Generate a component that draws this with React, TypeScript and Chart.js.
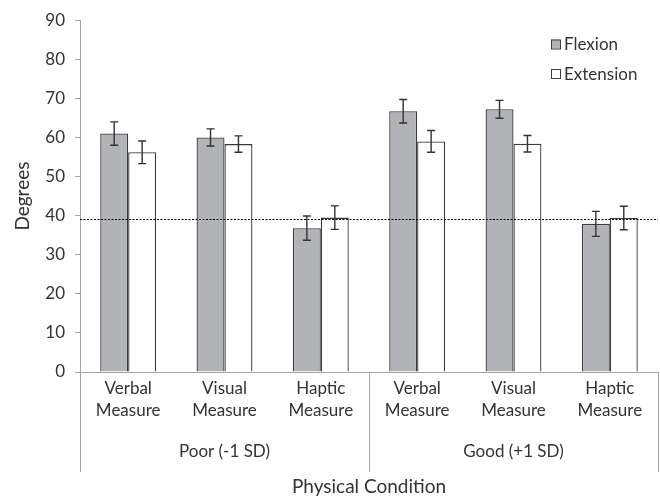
import React, { useEffect, useRef } from "react";
import { Chart, registerables } from "chart.js";

Chart.register(...registerables);

const categories: string[][] = [
  ["Verbal", "Measure"],
  ["Visual", "Measure"],
  ["Haptic", "Measure"],
  ["Verbal", "Measure"],
  ["Visual", "Measure"],
  ["Haptic", "Measure"],
];
const groups = ["Poor (-1 SD)", "Good (+1 SD)"];
const flexion = [61.0, 60.0, 36.8, 66.7, 67.2, 37.9];
const flexionErr = [3.0, 2.2, 3.1, 3.0, 2.3, 3.2];
const extension = [56.2, 58.3, 39.5, 59.0, 58.4, 39.4];
const extensionErr = [2.9, 2.1, 3.0, 2.8, 2.1, 3.0];
const referenceLine = 39.1;
const yTicks = [0, 10, 20, 30, 40, 50, 60, 70, 80, 90];

const FONT = "Lato, 'Liberation Sans', sans-serif";
const TEXT = "#333333";
const AXIS = "#a6a6a6";

const errorBarPlugin = {
  id: "errorBars",
  afterDatasetsDraw(chart: any) {
    const { ctx } = chart;
    const y = chart.scales.y;
    const errs = [flexionErr, extensionErr];
    ctx.save();
    ctx.strokeStyle = "#333333";
    ctx.lineWidth = 1.4;
    chart.data.datasets.forEach((ds: any, di: number) => {
      const meta = chart.getDatasetMeta(di);
      meta.data.forEach((bar: any, i: number) => {
        const v = ds.data[i];
        const e = errs[di][i];
        const x = bar.x;
        const yt = y.getPixelForValue(v + e);
        const yb = y.getPixelForValue(v - e);
        ctx.beginPath();
        ctx.moveTo(x, yt);
        ctx.lineTo(x, yb);
        ctx.moveTo(x - 4, yt);
        ctx.lineTo(x + 4, yt);
        ctx.moveTo(x - 4, yb);
        ctx.lineTo(x + 4, yb);
        ctx.stroke();
      });
    });
    ctx.restore();
  },
};

const extrasPlugin = {
  id: "extras",
  afterDraw(chart: any) {
    const { ctx, chartArea } = chart;
    const x = chart.scales.x;
    const y = chart.scales.y;
    ctx.save();
    const ry = Math.round(y.getPixelForValue(referenceLine)) + 0.5;
    ctx.strokeStyle = "#000000";
    ctx.lineWidth = 1;
    ctx.setLineDash([2, 1.5]);
    ctx.beginPath();
    ctx.moveTo(chartArea.left, ry);
    ctx.lineTo(chartArea.right, ry);
    ctx.stroke();
    ctx.setLineDash([]);
    ctx.strokeStyle = AXIS;
    ctx.lineWidth = 1;
    const xs = [x.getPixelForValue(-0.5), x.getPixelForValue(2.5), x.getPixelForValue(5.5)];
    xs.forEach((px: number) => {
      const p = Math.round(px) + 0.5;
      ctx.beginPath();
      ctx.moveTo(p, chartArea.bottom);
      ctx.lineTo(p, 472);
      ctx.stroke();
    });
    const items = chart.data.datasets.map((ds: any) => ({
      label: ds.label,
      fill: ds.backgroundColor,
    }));
    const lx = chartArea.right - 107;
    const ly = [44, 73.5];
    ctx.font = `17px ${FONT}`;
    ctx.textBaseline = "middle";
    ctx.textAlign = "left";
    items.forEach((it: any, i: number) => {
      ctx.fillStyle = it.fill;
      ctx.fillRect(lx, ly[i] - 4.5, 9, 9);
      ctx.strokeStyle = "#404040";
      ctx.lineWidth = 1;
      ctx.strokeRect(lx + 0.5, ly[i] - 4.5 + 0.5, 9, 9);
      ctx.fillStyle = TEXT;
      ctx.fillText(it.label, lx + 13, ly[i] + 1);
    });
    ctx.restore();
  },
};

export default function App() {
  const ref = useRef<HTMLCanvasElement | null>(null);
  useEffect(() => {
    if (!ref.current) return;
    const chart = new Chart(ref.current, {
      type: "bar",
      data: {
        labels: categories,
        datasets: [
          {
            label: "Flexion",
            data: flexion,
            backgroundColor: "#b2b3b7",
            borderColor: "#3a3a3a",
            borderWidth: 1.3,
            categoryPercentage: 0.58,
            barPercentage: 1.0,
          },
          {
            label: "Extension",
            data: extension,
            backgroundColor: "#ffffff",
            borderColor: "#3a3a3a",
            borderWidth: 1.3,
            categoryPercentage: 0.58,
            barPercentage: 1.0,
          },
        ],
      },
      options: {
        responsive: false,
        animation: false,
        layout: { padding: { left: 0, right: 2, top: 15, bottom: 0 } },
        plugins: { legend: { display: false }, tooltip: { enabled: false } },
        scales: {
          x: {
            type: "category",
            position: "bottom",
            weight: 0,
            offset: true,
            grid: { display: false, drawTicks: false },
            border: { display: true, color: AXIS, width: 1 },
            ticks: {
              color: TEXT,
              font: { family: FONT, size: 17, lineHeight: 1.3 },
              padding: 5,
              maxRotation: 0,
              autoSkip: false,
            },
            afterFit: (s: any) => {
              s.height = 60;
            },
          },
          x2: {
            type: "category",
            position: "bottom",
            weight: 1,
            labels: groups,
            offset: true,
            grid: { display: false, drawTicks: false },
            border: { display: false },
            ticks: {
              color: TEXT,
              font: { family: FONT, size: 17, lineHeight: 1.3 },
              padding: 8,
              maxRotation: 0,
              autoSkip: false,
            },
            title: {
              display: true,
              text: "Physical Condition",
              color: TEXT,
              font: { family: FONT, size: 19, lineHeight: 1.2 },
              padding: { top: 0, bottom: 0 },
            },
            afterFit: (s: any) => {
              s.height = 66;
            },
          },
          y: {
            min: 0,
            max: 90,
            afterBuildTicks: (s: any) => {
              s.ticks = yTicks.map((v) => ({ value: v }));
            },
            grid: {
              drawOnChartArea: false,
              drawTicks: true,
              tickLength: 5,
              color: AXIS,
            },
            border: { display: true, color: AXIS, width: 1 },
            ticks: {
              color: TEXT,
              font: { family: FONT, size: 17 },
              padding: 10,
            },
            title: {
              display: true,
              text: "Degrees",
              color: TEXT,
              font: { family: FONT, size: 19, lineHeight: 1.2 },
              padding: { top: 11, bottom: 0 },
            },
            afterFit: (s: any) => {
              s.width = 80;
            },
          },
        },
      },
      plugins: [errorBarPlugin, extrasPlugin],
    } as any);
    return () => chart.destroy();
  }, []);
  return (
    <div style={{ position: "fixed", left: 0, top: 0, width: 660, height: 498, background: "#fff" }}>
      <canvas ref={ref} width={660} height={498} />
    </div>
  );
}
